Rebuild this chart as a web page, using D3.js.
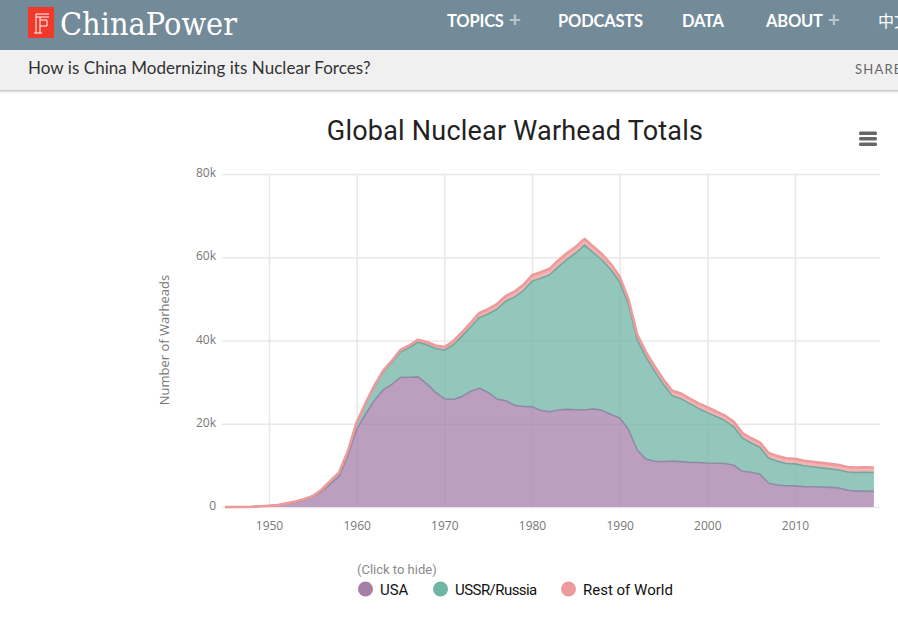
<!DOCTYPE html>
<html>
<head>
<meta charset="utf-8">
<script src="https://cdnjs.cloudflare.com/ajax/libs/d3/7.8.5/d3.min.js"></script>
<style>
  html, body { margin: 0; padding: 0; background: #fff; overflow: hidden; }
  svg { display: block; }
  .tick-label, .axis text { font-family: "Open Sans", sans-serif; font-size: 12px; fill: #777; }
  .axis path { display: none; }
  .axis line { stroke: #e8e8e8; stroke-width: 1.5px; }
</style>
</head>
<body>
<svg id="chart" width="898" height="618"></svg>
<script>
const years = d3.range(1945, 2020)
const usa = [2, 9, 13, 50, 170, 299, 438, 841, 1169, 1703, 2422, 3692, 5543, 7345, 12298,
  18638, 22229, 25540, 28133, 29463, 31139, 31175, 31255, 29561, 27552, 26008, 25830, 26516, 27835, 28537,
  27519, 25914, 25542, 24418, 24138, 24104, 23208, 22886, 23305, 23459, 23368, 23317, 23575, 23205, 22217,
  21392, 18664, 13700, 11500, 10979, 10904, 11011, 10903, 10732, 10685, 10577, 10526, 10457, 10027, 8570,
  8360, 7853, 5709, 5273, 5113, 5066, 4897, 4881, 4804, 4717, 4571, 4018, 3822, 3822, 3750]
const russia = [0, 0, 0, 0, 1, 5, 25, 50, 120, 150, 200, 426, 660, 869, 1060,
  1605, 2471, 3322, 4238, 5221, 6129, 7089, 8339, 9399, 10538, 11643, 13092, 14478, 15400, 17000,
  18850, 21600, 23900, 26000, 27800, 30150, 31750, 32850, 34400, 36050, 37650, 39600, 37500, 36100, 34800,
  32650, 30000, 26500, 24500, 21600, 18500, 15700, 15100, 14100, 13000, 12100, 11200, 10300, 9300, 8000,
  7000, 6500, 6000, 5700, 5350, 5300, 5000, 4800, 4600, 4450, 4300, 4400, 4450, 4500, 4550]
const rest = [0, 0, 0, 0, 0, 0, 0, 1, 5, 10, 20, 30, 40, 60, 80,
  120, 180, 250, 320, 400, 480, 540, 600, 660, 720, 780, 850, 920, 1000, 1080,
  1150, 1200, 1260, 1320, 1380, 1420, 1450, 1480, 1500, 1500, 1500, 1500, 1450, 1400, 1350,
  1300, 1250, 1200, 1200, 1200, 1150, 1200, 1250, 1200, 1200, 1300, 1250, 1200, 1200, 1200,
  1150, 1150, 1250, 1250, 1250, 1200, 1200, 1200, 1200, 1200, 1200, 1200, 1200, 1200, 1200]
const seriesNames = ["USA", "USSR/Russia", "Rest of World"]
const seriesColors = ["#a67fa8", "#70b4a4", "#ef9a9a"]
const lineColors = ["#8f8ba6", "#72a8a0", "#ef9a9a"]
const xTicks = [1950, 1960, 1970, 1980, 1990, 2000, 2010]
const yTicks = [0, 20000, 40000, 60000, 80000]
const navItems = [["TOPICS", 447, true], ["PODCASTS", 558, false], ["DATA", 682, false], ["ABOUT", 766, true]]

const svg = d3.select("#chart")

// site header
svg.append("rect").attr("width", 898).attr("height", 50).attr("fill", "#738a99")
svg.append("rect").attr("y", 50).attr("width", 898).attr("height", 40).attr("fill", "#f0f0f0")
const shadow = svg.append("g")
;[["#c9c9c9", 90], ["#e2e2e2", 91], ["#f3f3f3", 92], ["#fafafa", 93]].forEach(s => {
  shadow.append("rect").attr("y", s[1]).attr("width", 898).attr("height", 1).attr("fill", s[0])
})

svg.append("rect").attr("x", 28).attr("y", 7).attr("width", 26).attr("height", 31).attr("fill", "#f0392b")
svg.append("path")
  .attr("d", "M36 14H49M36 17H49M36 14V33M40 17V33M34 33H42M40 20H47V26H40")
  .attr("fill", "none").attr("stroke", "#fff").attr("stroke-width", 1)
svg.append("text").attr("x", 60).attr("y", 35).text("ChinaPower")
  .attr("font-family", "'DejaVu Serif', serif").attr("font-size", 31).attr("fill", "#fff")
  .attr("textLength", 177).attr("lengthAdjust", "spacingAndGlyphs")

navItems.forEach(n => {
  let t = svg.append("text").attr("x", n[1]).attr("y", 27)
    .attr("font-family", "Lato, sans-serif").attr("font-weight", 700).attr("font-size", 16.5)
    .attr("fill", "#fff").attr("letter-spacing", -0.2).text(n[0])
  if (n[2]) {
    t.append("tspan").attr("dx", 5).attr("fill", "#b9c5cd").attr("font-size", 21).text("+")
  }
})
svg.append("text").attr("x", 878).attr("y", 27).text("中文")
  .attr("font-family", "'Noto Sans CJK SC', sans-serif").attr("font-size", 16).attr("fill", "#fff")

svg.append("text").attr("x", 28).attr("y", 74).text("How is China Modernizing its Nuclear Forces?")
  .attr("font-family", "Lato, sans-serif").attr("font-size", 17).attr("letter-spacing", 0.05).attr("fill", "#333")
svg.append("text").attr("x", 855).attr("y", 74).text("SHARE")
  .attr("font-family", "Lato, sans-serif").attr("font-size", 13).attr("letter-spacing", 1.2).attr("fill", "#666")

// chart
const x = d3.scaleLinear().domain([1950, 2010]).range([269, 795])
const y = d3.scaleLinear().domain([0, 80000]).range([507, 174])

svg.append("text").attr("x", 515).attr("y", 140).attr("text-anchor", "middle")
  .attr("font-family", "Roboto, sans-serif").attr("font-size", 27).attr("letter-spacing", 0.22).attr("fill", "#222")
  .text("Global Nuclear Warhead Totals")

svg.append("g").attr("fill", "#666").selectAll("rect").data([0, 1, 2]).join("rect")
  .attr("x", 859).attr("y", d => 131.5 + d * 5.5).attr("width", 18).attr("height", 3.4).attr("rx", 1.5)

svg.append("g").attr("class", "axis")
  .attr("transform", "translate(0,507)")
  .call(d3.axisBottom(x).tickValues(xTicks).tickFormat(d3.format("d")).tickSize(-333).tickPadding(14))

svg.append("g").attr("class", "axis")
  .attr("transform", "translate(222,0)")
  .call(d3.axisLeft(y).tickValues(yTicks)
    .tickFormat(d => d === 0 ? "0" : d / 1000 + "k").tickSize(-658).tickPadding(6))
  .selectAll("text").attr("dy", "0.22em")

svg.append("text").attr("transform", "translate(169,340) rotate(-90)").attr("text-anchor", "middle")
  .attr("class", "tick-label").style("font-size", "13px").text("Number of Warheads")

// stacked layers, USA at the bottom
const table = years.map((yr, i) => ({year: yr, USA: usa[i], "USSR/Russia": russia[i], "Rest of World": rest[i]}))
const stacked = d3.stack().keys(seriesNames)(table)
const area = d3.area().x(d => x(d.data.year)).y0(d => y(d[0])).y1(d => y(d[1]))
const topLine = d3.line().x(d => x(d.data.year)).y(d => y(d[1]))

svg.append("g").selectAll("path").data(stacked).join("path")
  .attr("d", area).attr("fill", (d, i) => seriesColors[i]).attr("fill-opacity", 0.75)
svg.append("g").selectAll("path").data(stacked).join("path")
  .attr("d", topLine).attr("fill", "none").attr("stroke", (d, i) => lineColors[i])
  .attr("stroke-width", (d, i) => i === 2 ? 2.6 : 1.6).attr("stroke-linejoin", "round")

// legend
svg.append("text").attr("x", 357).attr("y", 574).text("(Click to hide)")
  .attr("font-family", "Roboto, sans-serif").attr("font-size", 13).attr("fill", "#8a8a8a")
const legendX = [358, 433, 561]
const legendSpacing = [-0.1, -0.55, 0]
const legend = svg.append("g").selectAll("g").data(seriesNames).join("g")
  .attr("transform", (d, i) => `translate(${legendX[i]},589)`)
legend.append("circle").attr("cx", 7.5).attr("r", 7.5).attr("fill", (d, i) => seriesColors[i])
legend.append("text").attr("x", 22).attr("y", 6).text(d => d)
  .attr("letter-spacing", (d, i) => legendSpacing[i])
  .attr("font-family", "Roboto, sans-serif").attr("font-size", 15).attr("fill", "#111")
</script>
</body>
</html>
